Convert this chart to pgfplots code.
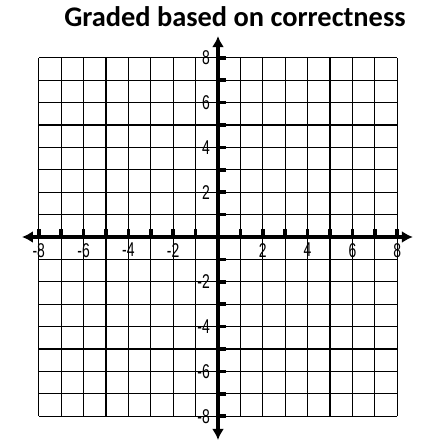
\documentclass[border=0pt]{standalone}
\usepackage{fontspec}
\usepackage{pgfplots}
\pgfplotsset{compat=1.18}
\usetikzlibrary{arrows.meta}
\newfontfamily\titlefont{Carlito}
\newfontfamily\tickfont[FakeStretch=0.7]{Liberation Sans}

\begin{document}
\begin{tikzpicture}
\useasboundingbox (-218bp,-208bp) rectangle (212bp,237bp);
\begin{axis}[
  anchor=origin, at={(0,0)},
  x=22.4bp, y=22.4bp,
  xmin=-8.75, xmax=8.7, ymin=-9.06, ymax=8.97,
  axis lines=middle,
  axis on top=true,
  clip=false,
  axis line style={line width=3.6bp,
    {Latex[length=11bp,width=12bp]}-{Latex[length=11bp,width=12bp]}},
  xtick={-8,...,8}, ytick={-8,...,8},
  xticklabels={-8,,-6,,-4,,-2,,,,2,,4,,6,,8},
  yticklabels={-8,,-6,,-4,,-2,,,,2,,4,,6,,8},
  tick align=center,
  major tick length=8bp,
  tick style={line width=3.5bp, black},
  xtick style={yshift=4bp},
  ytick style={xshift=4bp},
  ticklabel style={font=\tickfont\fontsize{20}{20}\selectfont, inner sep=0pt},
  xticklabel style={anchor=north, yshift=-2bp},
  yticklabel style={anchor=east, xshift=-4bp},
]
  % graph-paper grid, one line per unit
  \pgfplotsinvokeforeach{-8,...,8}{
    \draw[black, line width=1.1bp] (axis cs:#1,-8) -- (axis cs:#1,8);
    \draw[black, line width=1.1bp] (axis cs:-8,#1) -- (axis cs:8,#1);
  }
\end{axis}
\node[font=\titlefont\bfseries\fontsize{28.5}{28.5}\selectfont, anchor=base]
  at (17bp,210bp) {Graded based on correctness};
\end{tikzpicture}
\end{document}
